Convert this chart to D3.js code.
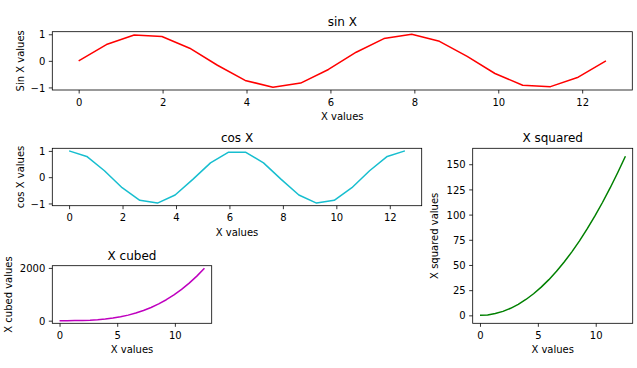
<!DOCTYPE html>
<html><head><meta charset="utf-8">
<script src="https://cdn.jsdelivr.net/npm/d3@7"></script>
<style>body{margin:0;background:#fff}svg{display:block}text{font-family:"DejaVu Sans",sans-serif;fill:#000}</style>
</head><body>
<script>
const xValues = [0, 0.661, 1.323, 1.984, 2.646, 3.307, 3.968, 4.630, 5.291, 5.953, 6.614, 7.275, 7.937, 8.598, 9.259, 9.921, 10.582, 11.244, 11.905, 12.566];
const sinValues = [0, 0.614, 0.970, 0.916, 0.476, -0.165, -0.736, -0.997, -0.837, -0.325, 0.325, 0.837, 0.997, 0.736, 0.165, -0.476, -0.916, -0.970, -0.614, 0];
const cosValues = [1, 0.789, 0.245, -0.401, -0.879, -0.986, -0.677, -0.082, 0.546, 0.946, 0.946, 0.546, -0.082, -0.677, -0.986, -0.879, -0.401, 0.245, 0.789, 1];
const squaredValues = [0, 0.44, 1.75, 3.94, 7.00, 10.94, 15.75, 21.44, 28.00, 35.44, 43.75, 52.94, 63.00, 73.94, 85.75, 98.44, 112.0, 126.44, 141.75, 157.91];
const cubedValues = [0, 0.29, 2.31, 7.81, 18.51, 36.16, 62.49, 99.23, 148.1, 210.9, 289.4, 385.2, 500.1, 635.9, 794.2, 976.8, 1185.4, 1421.9, 1687.9, 1984.4];
const sinXTicks = [0, 2, 4, 6, 8, 10, 12];
const trigYTicks = [-1, 0, 1];
const powXTicks = [0, 5, 10];
const squaredYTicks = [0, 25, 50, 75, 100, 125, 150];
const cubedYTicks = [0, 2000];

const W = 637, H = 368;
const svg = d3.select("body").append("svg").attr("width", W).attr("height", H);

function pad(ext) { const m = (ext[1] - ext[0]) * 0.05; return [ext[0] - m, ext[1] + m]; }

function panel(o) {
  const x = d3.scaleLinear().domain(pad(d3.extent(xValues))).range([o.l, o.r]);
  const y = d3.scaleLinear().domain(pad(d3.extent(o.ys))).range([o.b, o.t]);
  const g = svg.append("g");
  const line = d3.line().x((d, i) => x(xValues[i])).y(d => y(d));
  g.append("path").datum(o.ys).attr("d", line).attr("fill", "none")
    .attr("stroke", o.color).attr("stroke-width", 1.5).attr("stroke-linejoin", "round");
  // axes
  const xa = d3.axisBottom(x).tickValues(o.xt).tickSize(3.5).tickPadding(3.5).tickFormat(d3.format("d"));
  const ya = d3.axisLeft(y).tickValues(o.yt).tickSize(3.5).tickPadding(3.5).tickFormat(d3.format("d"));
  const gx = g.append("g").attr("transform", `translate(0,${o.b})`).call(xa);
  const gy = g.append("g").attr("transform", `translate(${o.l},0)`).call(ya);
  [gx, gy].forEach(a => {
    a.select(".domain").remove();
    a.selectAll("line").attr("stroke", "#000").attr("stroke-width", 0.8);
    a.selectAll("text").attr("font-size", 10).attr("font-family", "DejaVu Sans").attr("fill", "#000");
  });
  gx.selectAll("text").attr("y", 15.5).attr("dy", null);
  gy.selectAll("text").attr("dy", "0.36em");
  g.append("rect").attr("x", o.l).attr("y", o.t).attr("width", o.r - o.l).attr("height", o.b - o.t)
    .attr("fill", "none").attr("stroke", "#000").attr("stroke-width", 0.8);
  g.append("text").attr("x", (o.l + o.r) / 2).attr("y", o.t - 6).attr("text-anchor", "middle")
    .attr("font-size", 12).text(o.title);
  g.append("text").attr("x", (o.l + o.r) / 2).attr("y", o.b + 30).attr("text-anchor", "middle")
    .attr("font-size", 10).text("X values");
  g.append("text").attr("transform", `translate(${o.ylx},${(o.t + o.b) / 2}) rotate(-90)`)
    .attr("text-anchor", "middle").attr("font-size", 10).text(o.ylabel);
}

panel({l: 52.3, r: 632.3, t: 31.7, b: 90, ys: sinValues, color: "#ff0000", xt: sinXTicks, yt: trigYTicks,
  title: "sin X", ylabel: "Sin X values", ylx: 24});
panel({l: 52.3, r: 421.7, t: 148.3, b: 205.7, ys: cosValues, color: "#17becf", xt: sinXTicks, yt: trigYTicks,
  title: "cos X", ylabel: "cos X values", ylx: 24});
panel({l: 472.7, r: 632.7, t: 148.3, b: 323.3, ys: squaredValues, color: "#008000", xt: powXTicks, yt: squaredYTicks,
  title: "X squared", ylabel: "X squared values", ylx: 437.5});
panel({l: 52.3, r: 211.7, t: 265.7, b: 323.3, ys: cubedValues, color: "#bf00bf", xt: powXTicks, yt: cubedYTicks,
  title: "X cubed", ylabel: "X cubed values", ylx: 11.7});
</script>
</body></html>
